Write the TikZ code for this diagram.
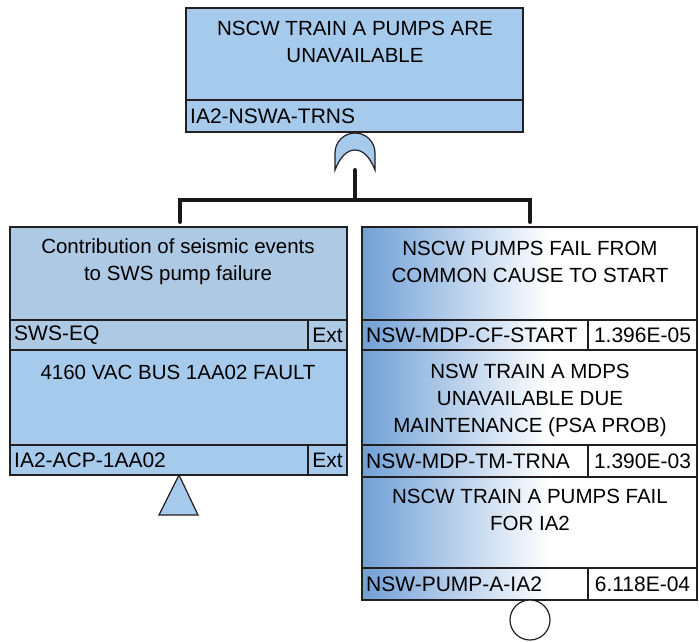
\documentclass[tikz,border=0pt]{standalone}
\usepackage{fontspec}
\setmainfont{Liberation Sans}
\usetikzlibrary{positioning}

\definecolor{evtblue}{RGB}{166,202,236}
\definecolor{extblue}{RGB}{174,201,228}
\definecolor{fadeblue}{RGB}{112,160,214}
\definecolor{edge}{RGB}{35,31,32}

\tikzset{
  frame/.style={draw=edge, line width=2pt},
  cell/.style={draw=edge, line width=1.2pt},
  title/.style={font=\fontsize{20.5}{27}\selectfont, align=center, inner sep=0pt},
  tag/.style={font=\fontsize{21}{22}\selectfont, anchor=west, inner sep=0pt},
  val/.style={font=\fontsize{21}{22}\selectfont, inner sep=0pt},
  wire/.style={line width=4pt, black!90, line cap=round},
}

\begin{document}
\begin{tikzpicture}[x=1pt,y=1pt]
    \useasboundingbox (0,0) rectangle (699,-642);

    % Top event
    \fill[evtblue] (186,-8) rectangle (523,-132);
    \draw[cell] (186,-100) -- (523,-100);
    \draw[frame] (186,-8) rectangle (523,-132);
    \node[title] (topT) at (355,-42) {NSCW TRAIN A PUMPS ARE\\UNAVAILABLE};
    \node[tag] (topN) at (190,-116) {IA2-NSWA-TRNS};

    % OR gate
    \filldraw[fill=evtblue, draw=edge, line width=1.2pt]
        (335,-170) -- (335,-153) arc[start angle=180, end angle=0, radius=20] -- (375,-170)
        .. controls (370,-157) and (363,-150) .. (355,-150)
        .. controls (347,-150) and (340,-157) .. (335,-170) -- cycle;
    \coordinate (gate) at (355,-170);
    \coordinate (bus) at (355,-200);
    \coordinate (feedL) at (180,-222);
    \coordinate (feedR) at (530,-222);
    \draw[wire] (gate) -- (bus);
    \draw[wire] (feedL) |- (bus) -| (feedR);

    % Left column: house events
    \fill[extblue] (10,-227) rectangle (347,-350);
    \fill[evtblue] (10,-350) rectangle (347,-475);
    \draw[cell] (10,-320) -- (347,-320) (308,-320) -- (308,-350);
    \draw[cell] (10,-445) -- (347,-445) (308,-445) -- (308,-475);
    \draw[frame] (10,-227) rectangle (347,-350);
    \draw[frame] (10,-350) rectangle (347,-475);
    \node[title] (swsT) at (178,-262) {Contribution of seismic events\\to SWS pump failure};
    \node[tag] (swsN) at (14,-335) {SWS-EQ};
    \node[val] (swsX) at (327.5,-335) {Ext};
    \node[title] (acpT) at (178,-372) {4160 VAC BUS 1AA02 FAULT};
    \node[tag] (acpN) at (14,-460) {IA2-ACP-1AA02};
    \node[val] (acpX) at (327.5,-460) {Ext};

    % transfer triangle
    \filldraw[fill=evtblue, draw=edge, line width=1.2pt] (179,-475) -- (198,-515) -- (159,-515) -- cycle;

    % Right column: basic events
    \fill[white] (362,-227) rectangle (697,-600);
    \shade[left color=fadeblue, right color=white] (362,-227) rectangle (550,-350);
    \shade[left color=fadeblue, right color=white] (362,-350) rectangle (550,-477);
    \shade[left color=fadeblue, right color=white] (362,-477) rectangle (550,-600);
    \fill[white] (588,-320) rectangle (697,-350);
    \fill[white] (588,-445) rectangle (697,-477);
    \fill[white] (588,-568) rectangle (697,-600);
    \draw[cell] (362,-320) -- (697,-320) (588,-320) -- (588,-350);
    \draw[cell] (362,-445) -- (697,-445) (588,-445) -- (588,-477);
    \draw[cell] (362,-568) -- (697,-568) (588,-568) -- (588,-600);
    \draw[frame] (362,-227) rectangle (697,-350);
    \draw[frame] (362,-350) rectangle (697,-477);
    \draw[frame] (362,-477) rectangle (697,-600);
    \node[title] (cfT) at (530,-262) {NSCW PUMPS FAIL FROM\\COMMON CAUSE TO START};
    \node[tag] (cfN) at (366,-335) {NSW-MDP-CF-START};
    \node[val] (cfP) at (642.5,-335) {1.396E-05};
    \node[title] (tmT) at (530,-400) {NSW TRAIN A MDPS\\UNAVAILABLE DUE\\MAINTENANCE (PSA PROB)};
    \node[tag] (tmN) at (366,-461) {NSW-MDP-TM-TRNA};
    \node[val] (tmP) at (642.5,-461) {1.390E-03};
    \node[title] (pmT) at (530,-510) {NSCW TRAIN A PUMPS FAIL\\FOR IA2};
    \node[tag] (pmN) at (366,-584) {NSW-PUMP-A-IA2};
    \node[val] (pmP) at (642.5,-584) {6.118E-04};

    % basic event circle
    \draw[edge, line width=1.2pt, fill=white] (530,-620) circle[radius=20];
\end{tikzpicture}
\end{document}
